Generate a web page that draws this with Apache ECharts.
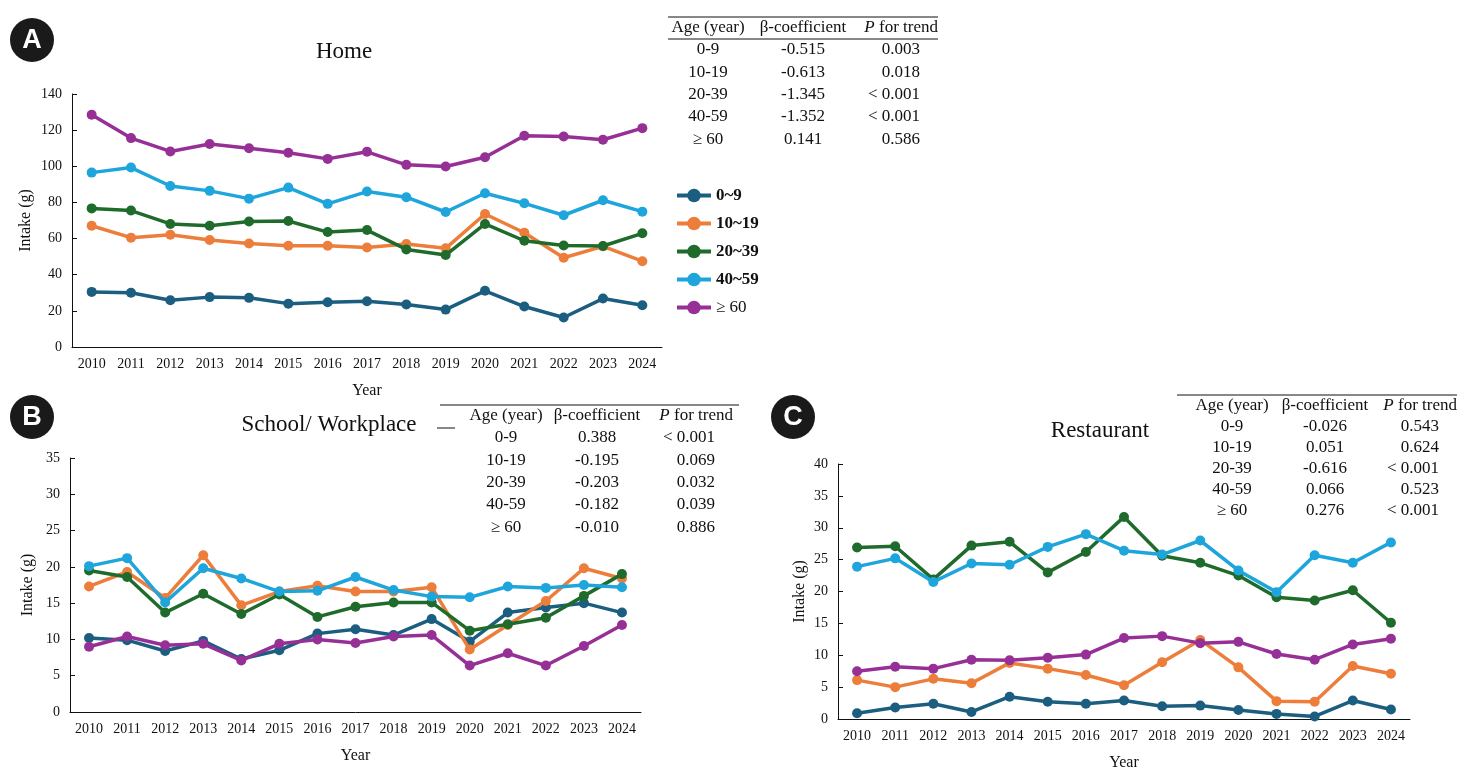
<!DOCTYPE html>
<html>
<head>
<meta charset="utf-8">
<title>Intake by place and age</title>
<script src="https://cdn.jsdelivr.net/npm/echarts@6.0.0/dist/echarts.min.js"></script>
<style>
  html, body { margin: 0; padding: 0; background: #fff; }
  #chart { width: 1469px; height: 774px; }
</style>
</head>
<body>
<div id="chart"></div>
<script>
// categories and group names
var years = ['2010', '2011', '2012', '2013', '2014', '2015', '2016', '2017', '2018', '2019', '2020', '2021', '2022', '2023', '2024'];
var groups = ['0~9', '10~19', '20~39', '40~59', '≥ 60'];
var colors = ['#1b5e80', '#ed7d3a', '#1f6b2c', '#1ea5dc', '#963096'];

// A: Home
var home0 = [30.5, 30.0, 25.9, 27.6, 27.2, 24.0, 24.8, 25.3, 23.5, 20.7, 31.1, 22.4, 16.3, 26.8, 23.1];
var home10 = [67.1, 60.5, 62.1, 59.2, 57.3, 56.0, 56.0, 55.1, 57.0, 54.6, 73.6, 63.2, 49.4, 55.7, 47.5];
var home20 = [76.7, 75.5, 68.1, 67.1, 69.4, 69.7, 63.6, 64.7, 54.0, 50.9, 68.1, 58.8, 56.2, 55.9, 62.9];
var home40 = [96.5, 99.3, 89.1, 86.4, 82.1, 88.2, 79.2, 86.0, 82.9, 74.7, 85.1, 79.5, 72.9, 81.2, 74.9];
var home60 = [128.5, 115.6, 108.2, 112.3, 110.0, 107.5, 104.1, 108.0, 100.8, 99.9, 105.0, 116.9, 116.5, 114.7, 121.1];

// B: School/ Workplace
var school0 = [10.2, 9.9, 8.4, 9.8, 7.3, 8.5, 10.8, 11.4, 10.6, 12.8, 9.7, 13.7, 14.4, 15.0, 13.7];
var school10 = [17.3, 19.3, 15.7, 21.6, 14.7, 16.6, 17.4, 16.6, 16.6, 17.2, 8.6, 12.0, 15.3, 19.8, 18.4];
var school20 = [19.5, 18.6, 13.7, 16.3, 13.5, 16.2, 13.1, 14.5, 15.1, 15.1, 11.2, 12.1, 13.0, 16.0, 19.0];
var school40 = [20.1, 21.2, 15.1, 19.8, 18.4, 16.6, 16.7, 18.6, 16.8, 15.9, 15.8, 17.3, 17.1, 17.5, 17.2];
var school60 = [9.0, 10.4, 9.2, 9.4, 7.1, 9.4, 10.0, 9.5, 10.4, 10.6, 6.4, 8.1, 6.4, 9.1, 12.0];

// C: Restaurant
var rest0 = [0.9, 1.8, 2.4, 1.1, 3.5, 2.7, 2.4, 2.9, 2.0, 2.1, 1.4, 0.8, 0.4, 2.9, 1.5];
var rest10 = [6.1, 5.0, 6.3, 5.6, 8.8, 7.9, 6.9, 5.3, 8.9, 12.4, 8.1, 2.8, 2.7, 8.3, 7.1];
var rest20 = [26.9, 27.1, 21.9, 27.2, 27.8, 23.0, 26.2, 31.7, 25.6, 24.5, 22.5, 19.1, 18.6, 20.2, 15.1];
var rest40 = [23.9, 25.2, 21.5, 24.4, 24.2, 27.0, 29.0, 26.4, 25.8, 28.0, 23.3, 19.9, 25.7, 24.5, 27.7];
var rest60 = [7.5, 8.2, 7.9, 9.3, 9.2, 9.6, 10.1, 12.7, 13.0, 11.9, 12.1, 10.2, 9.3, 11.7, 12.6];

// trend tables
var tableAges = ['0-9', '10-19', '20-39', '40-59', '≥ 60'];
var betaHome = ['-0.515', '-0.613', '-1.345', '-1.352', '0.141'];
var pHome = ['0.003', '0.018', '< 0.001', '< 0.001', '0.586'];
var betaSchool = ['0.388', '-0.195', '-0.203', '-0.182', '-0.010'];
var pSchool = ['< 0.001', '0.069', '0.032', '0.039', '0.886'];
var betaRest = ['-0.026', '0.051', '-0.616', '0.066', '0.276'];
var pRest = ['0.543', '0.624', '< 0.001', '0.523', '< 0.001'];

var serif = 'Liberation Serif';
var chart = echarts.init(document.getElementById('chart'));

function makeX(idx) {
    return {
        type: 'category',
        gridIndex: idx,
        data: years,
        boundaryGap: true,
        name: 'Year',
        nameLocation: 'middle',
        nameGap: 36,
        nameTextStyle: { fontFamily: serif, fontSize: 16, color: '#111' },
        axisLine: { lineStyle: { color: '#111', width: 1 } },
        axisTick: { inside: true, length: 5, lineStyle: { color: '#111' } },
        axisLabel: { fontFamily: serif, fontSize: 14, color: '#111', margin: 10 }
    };
}
function makeY(idx, max, interval, gap) {
    return {
        type: 'value',
        gridIndex: idx,
        min: 0,
        max: max,
        interval: interval,
        name: 'Intake (g)',
        nameLocation: 'middle',
        nameGap: gap,
        nameTextStyle: { fontFamily: serif, fontSize: 16, color: '#111' },
        axisLine: { show: true, lineStyle: { color: '#111', width: 1 } },
        axisTick: { show: true, inside: true, length: 5, lineStyle: { color: '#111' } },
        axisLabel: { fontFamily: serif, fontSize: 14, color: '#111', margin: 10 },
        splitLine: { show: false }
    };
}

var panelData = [
    [home0, home10, home20, home40, home60],
    [school0, school10, school20, school40, school60],
    [rest0, rest10, rest20, rest40, rest60]
];
var series = [];
panelData.forEach(function (set, p) {
    set.forEach(function (vals, g) {
        series.push({
            name: groups[g],
            type: 'line',
            xAxisIndex: p,
            yAxisIndex: p,
            data: vals,
            symbol: 'circle',
            symbolSize: 10,
            color: colors[g],
            lineStyle: { width: 3.5, color: colors[g] },
            itemStyle: { color: colors[g] },
            z: 2 + g
        });
    });
});

// tables as text
function tableGraphics(x0, x1, topY, ageX, betaX, pRight, rowY, rowGap, betas, ps, underline) {
    var g = [];
    var base = { fontFamily: serif, fontSize: 17, fill: '#111', verticalAlign: 'middle' };
    g.push({ type: 'line', shape: { x1: x0, y1: topY, x2: x1, y2: topY }, style: { stroke: '#111', lineWidth: 1 } });
    if (underline) {
        g.push({ type: 'line', shape: { x1: underline[0], y1: underline[2], x2: underline[1], y2: underline[2] }, style: { stroke: '#111', lineWidth: 1 } });
    }
    var hy = topY + 11;
    g.push({ type: 'text', x: ageX, y: hy, style: Object.assign({}, base, { text: 'Age (year)', align: 'center' }) });
    g.push({ type: 'text', x: betaX, y: hy, style: Object.assign({}, base, { text: 'β-coefficient', align: 'center' }) });
    g.push({ type: 'text', x: pRight + 18, y: hy, style: Object.assign({}, base, {
        text: '{i|P} for trend', align: 'right',
        rich: { i: { fontFamily: serif, fontSize: 17, fontStyle: 'italic', fill: '#111' } }
    }) });
    tableAges.forEach(function (a, i) {
        var y = rowY + i * rowGap;
        g.push({ type: 'text', x: ageX, y: y, style: Object.assign({}, base, { text: a, align: 'center' }) });
        g.push({ type: 'text', x: betaX, y: y, style: Object.assign({}, base, { text: betas[i], align: 'center' }) });
        g.push({ type: 'text', x: pRight, y: y, style: Object.assign({}, base, { text: ps[i], align: 'right' }) });
    });
    return g;
}

function badge(cx, cy, letter) {
    return [
        { type: 'circle', shape: { cx: cx, cy: cy, r: 22 }, style: { fill: '#1a1a1a' } },
        { type: 'text', x: cx, y: cy + 1, style: { text: letter, fontFamily: 'Liberation Sans', fontWeight: 'bold', fontSize: 27, fill: '#fff', align: 'center', verticalAlign: 'middle' } }
    ];
}
function title(x, y, t) {
    return { type: 'text', x: x, y: y, style: { text: t, fontFamily: serif, fontSize: 23, fill: '#111', align: 'center', verticalAlign: 'middle' } };
}

var graphics = [].concat(
    badge(32, 40, 'A'), badge(32, 417, 'B'), badge(793, 417, 'C'),
    [title(344, 52, 'Home'), title(329, 425, 'School/ Workplace'), title(1100, 431, 'Restaurant')],
    tableGraphics(668, 938, 17, 708, 803, 920, 50, 22.3, betaHome, pHome, [668, 938, 39]),
    tableGraphics(440, 739, 405, 506, 597, 715, 438, 22.3, betaSchool, pSchool, [437, 455, 428]),
    tableGraphics(1177, 1457, 395, 1232, 1325, 1439, 427, 21, betaRest, pRest, null)
);

var option = {
    backgroundColor: '#fff',
    animation: false,
    legend: {
        orient: 'vertical',
        left: 670,
        top: 182,
        itemWidth: 34,
        itemHeight: 17,
        itemGap: 11,
        data: groups,
        lineStyle: { width: 4 },
        formatter: function (name) {
            return name === '≥ 60' ? '{n|' + name + '}' : '{b|' + name + '}';
        },
        textStyle: {
            fontFamily: serif, fontSize: 17, color: '#111',
            rich: {
                b: { fontFamily: serif, fontSize: 17, fontWeight: 'bold', color: '#111' },
                n: { fontFamily: serif, fontSize: 17, color: '#111' }
            }
        }
    },
    grid: [
        { left: 72, top: 94, width: 590, height: 253 },
        { left: 70, top: 458, width: 571, height: 254 },
        { left: 838, top: 464, width: 572, height: 255 }
    ],
    xAxis: [makeX(0), makeX(1), makeX(2)],
    yAxis: [makeY(0, 140, 20, 38), makeY(1, 35, 5, 34), makeY(2, 40, 5, 30)],
    series: series,
    graphic: graphics
};
chart.setOption(option);
</script>
</body>
</html>
